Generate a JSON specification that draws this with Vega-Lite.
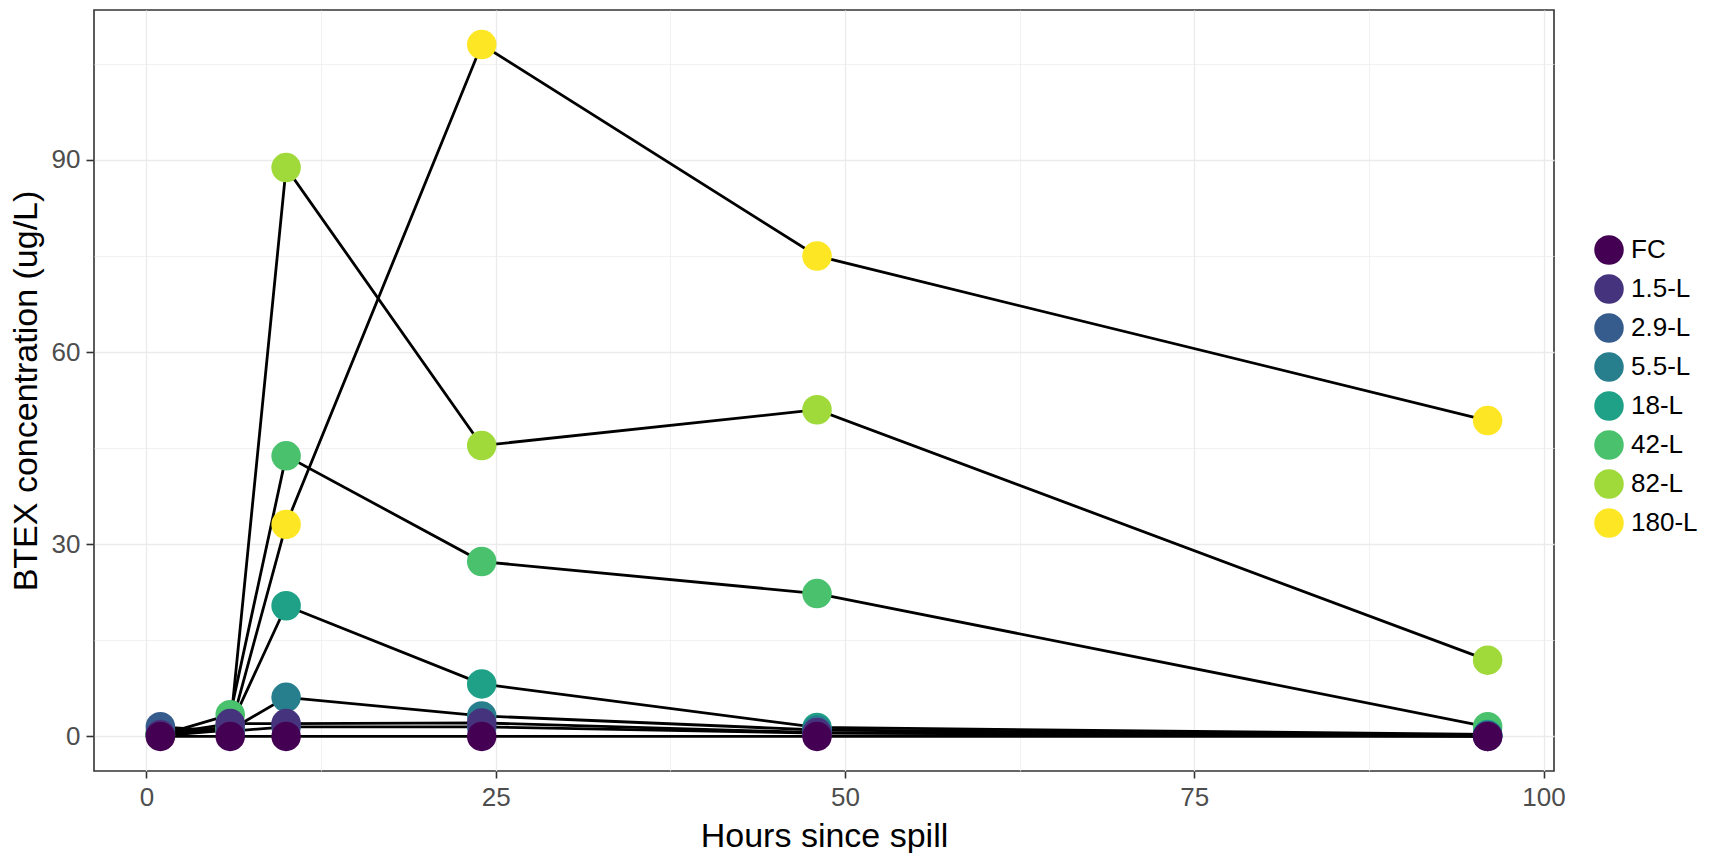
{
  "$schema": "https://vega.github.io/schema/vega-lite/v6.json",
  "width": 1460,
  "height": 761,
  "padding": {"left": 94, "top": 10, "right": 159, "bottom": 82},
  "autosize": {"type": "none"},
  "background": "white",
  "config": {
    "font": "Liberation Sans",
    "view": {"stroke": "#333333", "strokeWidth": 1.6},
    "axis": {
      "domain": false,
      "grid": true,
      "gridColor": "#EBEBEB",
      "labelFont": "Liberation Sans",
      "labelFontSize": 26,
      "labelColor": "#4D4D4D",
      "titleFont": "Liberation Sans",
      "titleFontSize": 34,
      "titleFontWeight": "normal",
      "titleColor": "#000000",
      "tickColor": "#333333",
      "tickWidth": 1.6
    }
  },
  "data": {
    "values": [
      {"series": "180-L", "hours": 1, "btex": 0.1},
      {"series": "180-L", "hours": 6, "btex": 1.0},
      {"series": "180-L", "hours": 10, "btex": 33.1},
      {"series": "180-L", "hours": 24, "btex": 108.0},
      {"series": "180-L", "hours": 48, "btex": 75.0},
      {"series": "180-L", "hours": 96, "btex": 49.3},
      {"series": "82-L", "hours": 1, "btex": 0.7},
      {"series": "82-L", "hours": 6, "btex": 1.3},
      {"series": "82-L", "hours": 10, "btex": 88.8},
      {"series": "82-L", "hours": 24, "btex": 45.4},
      {"series": "82-L", "hours": 48, "btex": 51.0},
      {"series": "82-L", "hours": 96, "btex": 11.9},
      {"series": "42-L", "hours": 1, "btex": 0.2},
      {"series": "42-L", "hours": 6, "btex": 3.4},
      {"series": "42-L", "hours": 10, "btex": 43.8},
      {"series": "42-L", "hours": 24, "btex": 27.3},
      {"series": "42-L", "hours": 48, "btex": 22.3},
      {"series": "42-L", "hours": 96, "btex": 1.5},
      {"series": "18-L", "hours": 1, "btex": 0.3},
      {"series": "18-L", "hours": 6, "btex": 1.5},
      {"series": "18-L", "hours": 10, "btex": 20.4},
      {"series": "18-L", "hours": 24, "btex": 8.2},
      {"series": "18-L", "hours": 48, "btex": 1.4},
      {"series": "18-L", "hours": 96, "btex": 0.3},
      {"series": "5.5-L", "hours": 1, "btex": 0.5},
      {"series": "5.5-L", "hours": 6, "btex": 1.0},
      {"series": "5.5-L", "hours": 10, "btex": 6.1},
      {"series": "5.5-L", "hours": 24, "btex": 3.2},
      {"series": "5.5-L", "hours": 48, "btex": 1.0},
      {"series": "5.5-L", "hours": 96, "btex": 0.2},
      {"series": "2.9-L", "hours": 1, "btex": 1.5},
      {"series": "2.9-L", "hours": 6, "btex": 0.8},
      {"series": "2.9-L", "hours": 10, "btex": 1.5},
      {"series": "2.9-L", "hours": 24, "btex": 1.5},
      {"series": "2.9-L", "hours": 48, "btex": 0.5},
      {"series": "2.9-L", "hours": 96, "btex": 0.1},
      {"series": "1.5-L", "hours": 1, "btex": 0.3},
      {"series": "1.5-L", "hours": 6, "btex": 2.0},
      {"series": "1.5-L", "hours": 10, "btex": 2.0},
      {"series": "1.5-L", "hours": 24, "btex": 2.1},
      {"series": "1.5-L", "hours": 48, "btex": 0.6},
      {"series": "1.5-L", "hours": 96, "btex": 0.0},
      {"series": "FC", "hours": 1, "btex": 0.0},
      {"series": "FC", "hours": 6, "btex": 0.0},
      {"series": "FC", "hours": 10, "btex": 0.0},
      {"series": "FC", "hours": 24, "btex": 0.0},
      {"series": "FC", "hours": 48, "btex": 0.0},
      {"series": "FC", "hours": 96, "btex": 0.0}
    ]
  },
  "encoding": {
    "x": {
      "field": "hours",
      "type": "quantitative",
      "scale": {"domain": [-3.75, 100.75], "nice": false, "zero": false},
      "axis": {
        "title": "Hours since spill",
        "values": [0, 12.5, 25, 37.5, 50, 62.5, 75, 87.5, 100],
        "labelExpr": "datum.value % 25 == 0 ? datum.label : ''",
        "gridWidth": {"condition": {"test": "datum.value % 25 == 0", "value": 1.3}, "value": 0.7},
        "tickSize": {"condition": {"test": "datum.value % 25 == 0", "value": 7}, "value": 0},
        "labelPadding": 6,
        "titlePadding": 9,
        "labelFlush": false,
        "labelOverlap": false
      }
    },
    "y": {
      "field": "btex",
      "type": "quantitative",
      "scale": {"domain": [-5.4, 113.4], "nice": false, "zero": false},
      "axis": {
        "title": "BTEX concentration (ug/L)",
        "values": [0, 15, 30, 45, 60, 75, 90, 105],
        "labelExpr": "datum.value % 30 == 0 ? datum.label : ''",
        "gridWidth": {"condition": {"test": "datum.value % 30 == 0", "value": 1.3}, "value": 0.7},
        "tickSize": {"condition": {"test": "datum.value % 30 == 0", "value": 8}, "value": 0},
        "labelPadding": 6,
        "titlePadding": 8,
        "labelFlush": false,
        "labelOverlap": false
      }
    }
  },
  "layer": [
    {
      "mark": {"type": "line", "color": "#000000", "strokeWidth": 2.8},
      "encoding": {"detail": {"field": "series", "type": "nominal"}}
    },
    {
      "mark": {"type": "point", "shape": "circle", "filled": true, "opacity": 1, "size": 870},
      "encoding": {
        "color": {
          "field": "series",
          "type": "nominal",
          "scale": {
            "domain": ["FC", "1.5-L", "2.9-L", "5.5-L", "18-L", "42-L", "82-L", "180-L"],
            "range": ["#440154", "#46337E", "#365C8D", "#277F8E", "#1FA187", "#4AC16D", "#9FDA3A", "#FDE725"]
          },
          "legend": {
            "title": null,
            "orient": "none",
            "legendX": 1500,
            "legendY": 225,
            "padding": 0,
            "symbolType": "circle",
            "symbolSize": 870,
            "symbolStrokeWidth": 0,
            "symbolOpacity": 1,
            "rowPadding": 9,
            "labelFont": "Liberation Sans",
            "labelFontSize": 26,
            "labelColor": "#000000",
            "labelOffset": 7
          }
        }
      }
    }
  ]
}
